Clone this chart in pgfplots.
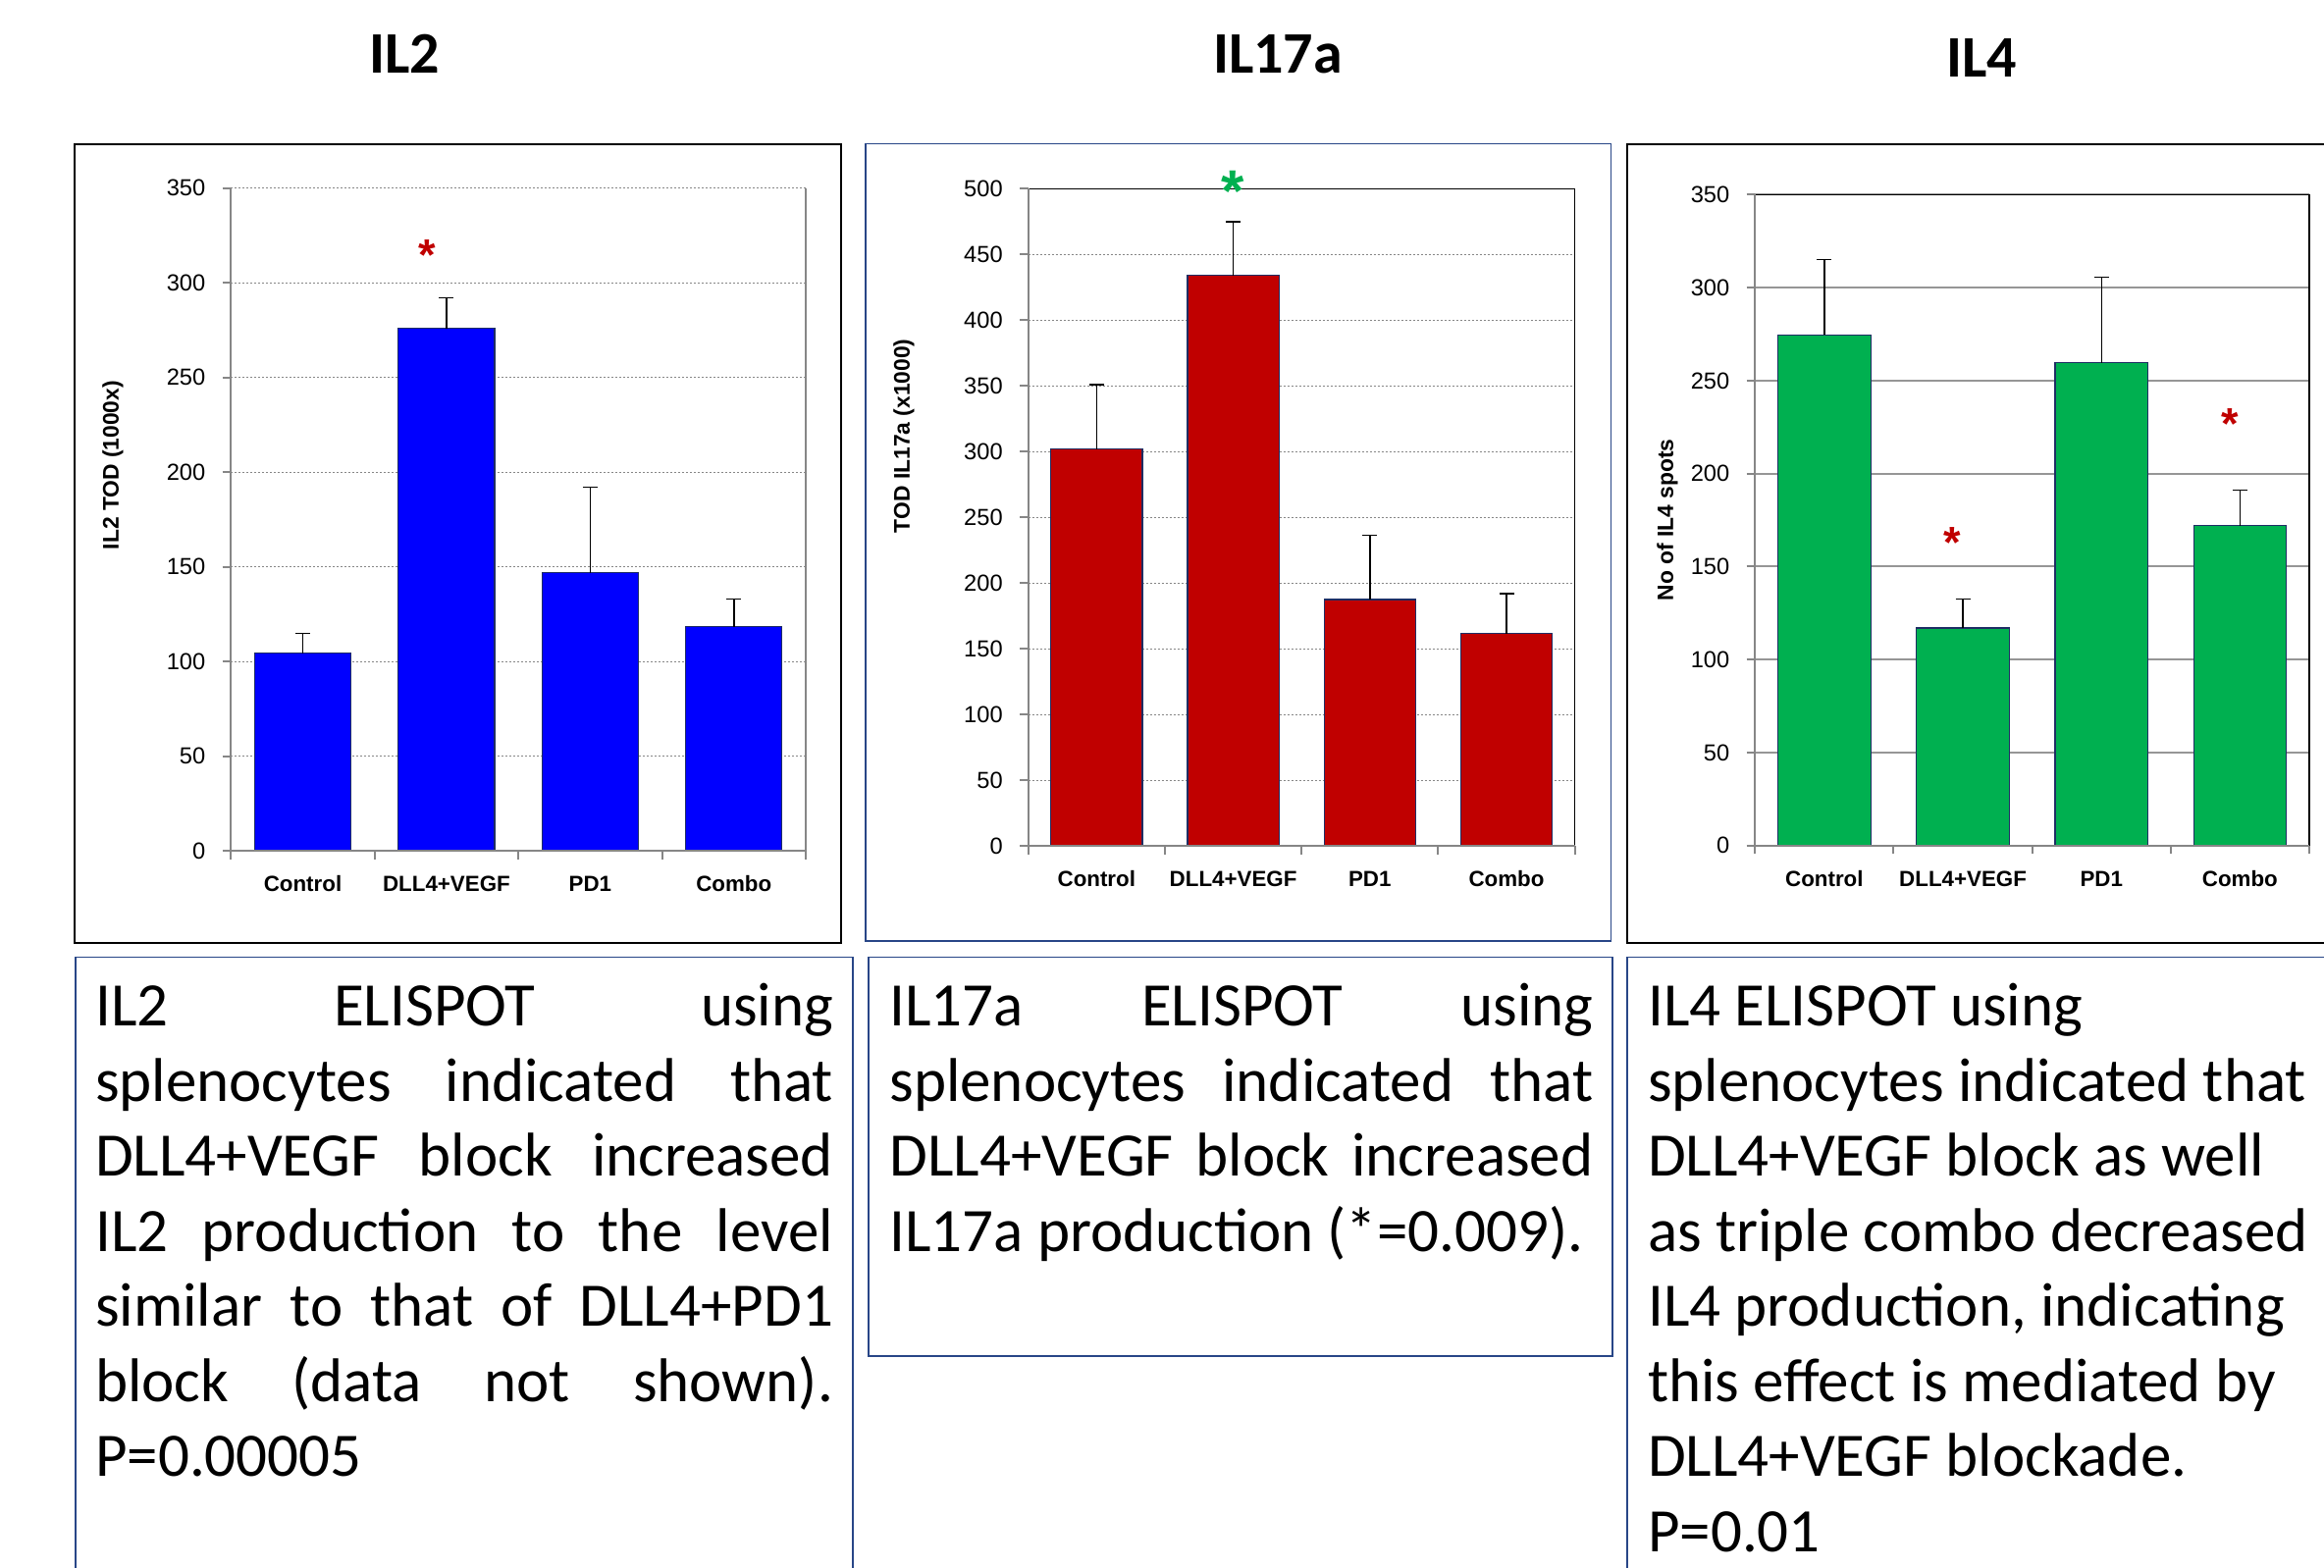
\documentclass[border=0pt]{standalone}
\usepackage{pgfplots}
\pgfplotsset{compat=1.18}
\usepackage{fontspec}
\setmainfont{Carlito}
\newfontfamily\lib{Liberation Sans}

\definecolor{axgray}{RGB}{134,134,134}
\definecolor{gridgray}{RGB}{150,150,150}
\definecolor{barblue}{RGB}{0,0,255}
\definecolor{barred}{RGB}{192,0,0}
\definecolor{bargreen}{RGB}{0,176,80}
\definecolor{baredge}{RGB}{31,46,100}
\definecolor{starred}{RGB}{192,0,0}
\definecolor{stargreen}{RGB}{0,176,80}
\definecolor{boxblue}{RGB}{40,70,135}

\pgfplotsset{
  elispot/.style={
    scale only axis, clip=false,
    xmin=-0.5, xmax=3.5, ymin=0,
    xtick={0,1,2,3},
    xticklabels={Control,DLL4+VEGF,PD1,Combo},
    minor xtick={-0.5,0.5,1.5,2.5,3.5},
    tick pos=left, tick align=outside,
    major tick length=2.6pt, minor tick length=2.6pt,
    major x tick style={draw=none},
    minor x tick style={draw=axgray, line width=0.6pt},
    ytick style={draw=axgray, line width=0.6pt},
    axis line style={draw=none},
    ymajorgrids,
    scaled y ticks=false,
    /pgf/number format/assume math mode=true,
    yticklabel style={font=\lib\fontsize{7.1}{8}\selectfont, inner sep=0pt, xshift=-5pt},
    xticklabel style={font=\lib\bfseries\fontsize{6.7}{8}\selectfont, inner sep=0pt, anchor=base, yshift=-9.85pt},
    ylabel style={font=\lib\bfseries\fontsize{6.85}{8}\selectfont, anchor=center},
  },
  dotgrid/.style={major y grid style={axgray, line width=0.4pt, dash pattern=on 0.6pt off 0.6pt}},
  solidgrid/.style={major y grid style={gridgray, line width=0.6pt}},
  bars/.style={ybar, bar width=0.67, draw=baredge, line width=0.35pt,
    error bars/y dir=plus, error bars/y explicit,
    error bars/error mark=-,
    error bars/error bar style={black, line width=0.45pt},
    error bars/error mark options={rotate=90, black, line width=0.45pt, mark size=2.25pt}},
}

\newcommand{\boxtext}{\fontsize{18.9}{22.95}\selectfont\tolerance=10000\hbadness=10000\hyphenpenalty=10000\exhyphenpenalty=10000}
\newcommand{\starfont}[1]{\lib\bfseries\fontsize{#1}{#1}\selectfont}

\begin{document}
\begin{tikzpicture}
\useasboundingbox (0pt,0pt) rectangle (710.4pt,-479.4pt);
\clip (0pt,0pt) rectangle (710.4pt,-479.4pt);

% ---------------- IL2 ----------------
\begin{axis}[elispot, dotgrid,
  at={(70.59pt,-260.19pt)}, anchor=south west,
  width=175.71pt, height=202.68pt,
  ymax=350, ytick={0,50,...,350},
  ylabel={IL2 TOD (1000x)},
  ylabel style={at={(rel axis cs:-0.2054,0.582)}}]
\addplot[bars, fill=barblue] coordinates {
  (0,104.5) +- (0,10.5)
  (1,276.0) +- (0,16.0)
  (2,147.0) +- (0,45.0)
  (3,118.5) +- (0,14.5)
};
\draw[axgray, line width=0.4pt] (rel axis cs:1,1) -- (rel axis cs:1,0);
\draw[axgray, line width=0.6pt] (rel axis cs:0,1) -- (rel axis cs:0,0) -- (rel axis cs:1,0);
\node[anchor=north, inner sep=0pt, text=starred, font=\starfont{13.5}] at (axis cs:0.864,323) {*};
\end{axis}

% ---------------- IL17a ----------------
\begin{axis}[elispot, dotgrid,
  at={(314.31pt,-258.69pt)}, anchor=south west,
  width=167.1pt, height=201pt,
  ymax=500, ytick={0,50,...,500},
  ylabel={TOD IL17a (x1000)},
  ylabel style={at={(rel axis cs:-0.2275,0.624)}}]
\addplot[bars, fill=barred] coordinates {
  (0,302.0) +- (0,49.0)
  (1,434.0) +- (0,41.0)
  (2,187.5) +- (0,49.0)
  (3,161.5) +- (0,30.5)
};
\draw[black, line width=0.45pt] (rel axis cs:0,1) -- (rel axis cs:1,1) -- (rel axis cs:1,0);
\draw[axgray, line width=0.6pt] (rel axis cs:0,1) -- (rel axis cs:0,0) -- (rel axis cs:1,0);
\node[anchor=north, inner sep=0pt, text=stargreen, font=\starfont{18}] at (axis cs:1.0,514) {*};
\end{axis}

% ---------------- IL4 ----------------
\begin{axis}[elispot, solidgrid,
  at={(536.49pt,-258.51pt)}, anchor=south west,
  width=169.41pt, height=199.02pt,
  ymax=350, ytick={0,50,...,350},
  ylabel={No of IL4 spots},
  ylabel style={at={(rel axis cs:-0.158,0.5)}}]
\addplot[bars, fill=bargreen] coordinates {
  (0,274.5) +- (0,40.5)
  (1,117.0) +- (0,15.5)
  (2,259.5) +- (0,46.0)
  (3,172.0) +- (0,19.0)
};
\draw[black, line width=0.45pt] (rel axis cs:0,1) -- (rel axis cs:1,1) -- (rel axis cs:1,0);
\draw[axgray, line width=0.6pt] (rel axis cs:0,1) -- (rel axis cs:0,0) -- (rel axis cs:1,0);
\node[anchor=north, inner sep=0pt, text=starred, font=\starfont{13.5}] at (axis cs:0.92,171.5) {*};
\node[anchor=north, inner sep=0pt, text=starred, font=\starfont{13.5}] at (axis cs:2.93,235) {*};
\end{axis}

\begin{scope}[x=0.3pt, y=-0.3pt]
% panel titles
\node[anchor=base, font=\bfseries\fontsize{18}{20}\selectfont] at (412,74) {IL2};
\node[anchor=base, font=\bfseries\fontsize{18}{20}\selectfont] at (1302,74) {IL17a};
\node[anchor=base, font=\bfseries\fontsize{18}{20}\selectfont] at (2019,78.5) {IL4};

% chart frames
\draw[black, line width=0.6pt] (75.5,146.5) rectangle (857,960.5);
\draw[boxblue, line width=0.45pt] (882,146.5) rectangle (1641.7,959);
\draw[black, line width=0.6pt] (1657.7,146.5) rectangle (2400,960.5);

% caption boxes
\draw[boxblue, line width=0.45pt] (77,975.5) rectangle (869,1700);
\draw[boxblue, line width=0.45pt] (885,975.5) rectangle (1643,1382);
\draw[boxblue, line width=0.45pt] (1658,975.5) rectangle (2400,1700);

\node[anchor=base west, inner sep=0pt] at (96.5,1045.5) {\parbox[t]{225.6pt}{\boxtext
IL2 ELISPOT using\linebreak splenocytes indicated that\linebreak DLL4+VEGF block increased\linebreak IL2 production to the level\linebreak similar to that of DLL4+PD1\linebreak block (data not shown).\linebreak P=0.00005}};

\node[anchor=base west, inner sep=0pt] at (905.8,1045.5) {\parbox[t]{215.1pt}{\boxtext
IL17a ELISPOT using\linebreak splenocytes indicated that\linebreak DLL4+VEGF block increased\linebreak IL17a production (*=0.009).}};

\node[anchor=base west, inner sep=0pt] at (1678.5,1045.5) {\parbox[t]{216pt}{\boxtext\raggedright
IL4 ELISPOT using\\ splenocytes indicated that\\ DLL4+VEGF block as well\\ as triple combo decreased\\ IL4 production, indicating\\ this effect is mediated by\\ DLL4+VEGF blockade.\\ P=0.01}};
\end{scope}
\end{tikzpicture}
\end{document}
